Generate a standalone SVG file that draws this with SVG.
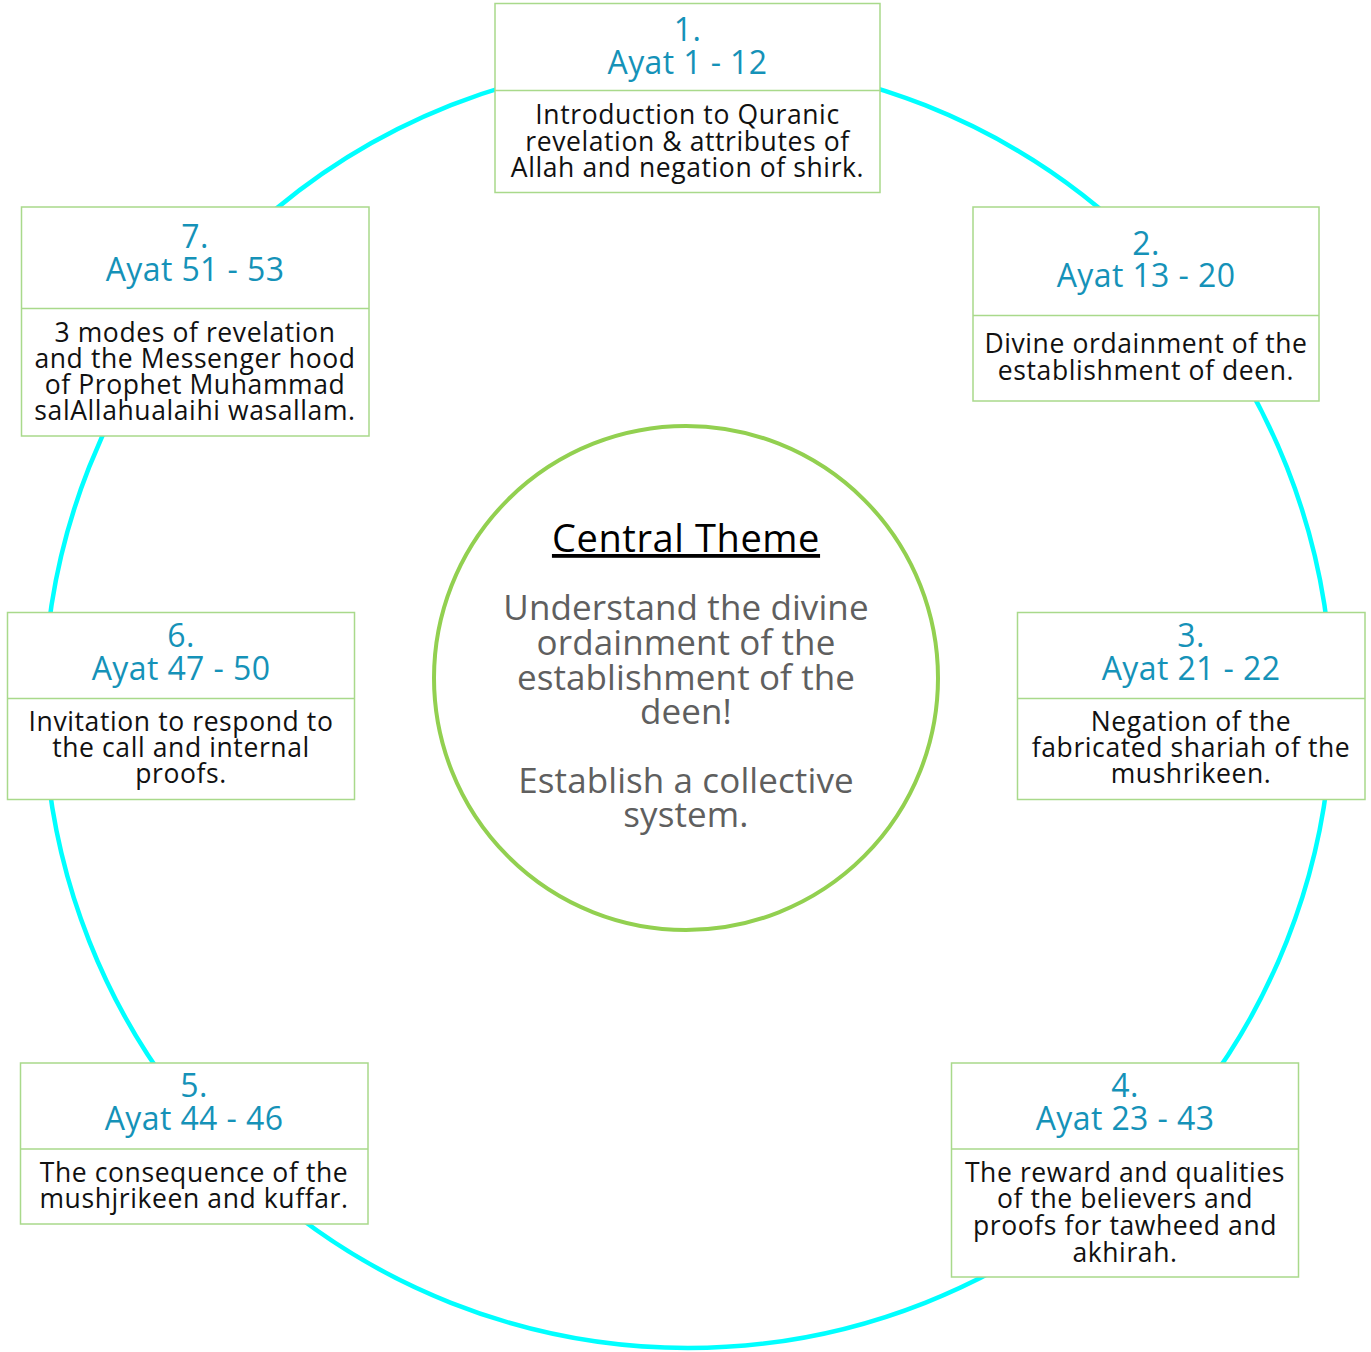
<svg xmlns="http://www.w3.org/2000/svg" width="1371" height="1352" viewBox="0 0 1371 1352">
<style>
.ring{fill:none;stroke:#00ffff;stroke-width:4.5}
.core{fill:#ffffff;stroke:#92d050;stroke-width:4}
.box{fill:#ffffff;stroke:#a9d98b;stroke-width:1.5}
.div{stroke:#a9d98b;stroke-width:1.5}
.hd{font-family:"Open Sans",sans-serif;font-size:32px;letter-spacing:0.4px;fill:#1592b8;text-anchor:middle}
.bd{font-family:"Open Sans",sans-serif;font-size:26.5px;letter-spacing:0.6px;fill:#111111;text-anchor:middle}
.ttl{font-family:"Open Sans",sans-serif;font-size:38px;letter-spacing:0.6px;fill:#000000;text-anchor:middle;text-decoration:underline}
.ct{font-family:"Open Sans",sans-serif;font-size:35px;letter-spacing:0.1px;fill:#5f5f5f;text-anchor:middle}
</style>
<rect width="1371" height="1352" fill="#ffffff"/>
<g id="connectors">
<circle class="ring" cx="688" cy="704" r="644"/>
</g>
<g id="central">
<circle class="core" cx="686" cy="678" r="252"/>
<text class="ttl" x="686" y="552">Central Theme</text>
<text class="ct" x="686" y="620">Understand the divine</text>
<text class="ct" x="686" y="655">ordainment of the</text>
<text class="ct" x="686" y="690">establishment of the</text>
<text class="ct" x="686" y="724">deen!</text>
<text class="ct" x="686" y="793">Establish a collective</text>
<text class="ct" x="686" y="827">system.</text>
</g>
<g id="node1">
<rect class="box" x="495" y="3.5" width="385" height="189"/>
<line class="div" x1="495" y1="90.5" x2="880" y2="90.5"/>
<text class="hd" x="687.5" y="41">1.</text>
<text class="hd" x="687.5" y="74">Ayat 1 - 12</text>
<text class="bd" x="687.5" y="124">Introduction to Quranic</text>
<text class="bd" x="687.5" y="151">revelation &amp; attributes of</text>
<text class="bd" x="687.5" y="177">Allah and negation of shirk.</text>
</g>
<g id="node2">
<rect class="box" x="973" y="207" width="346" height="194"/>
<line class="div" x1="973" y1="315.5" x2="1319" y2="315.5"/>
<text class="hd" x="1146" y="255">2.</text>
<text class="hd" x="1146" y="287">Ayat 13 - 20</text>
<text class="bd" x="1146" y="353">Divine ordainment of the</text>
<text class="bd" x="1146" y="380">establishment of deen.</text>
</g>
<g id="node3">
<rect class="box" x="1017.5" y="612.5" width="347.5" height="187"/>
<line class="div" x1="1017.5" y1="698.5" x2="1365" y2="698.5"/>
<text class="hd" x="1191" y="647">3.</text>
<text class="hd" x="1191" y="680">Ayat 21 - 22</text>
<text class="bd" x="1191" y="731">Negation of the</text>
<text class="bd" x="1191" y="757">fabricated shariah of the</text>
<text class="bd" x="1191" y="783">mushrikeen.</text>
</g>
<g id="node4">
<rect class="box" x="951.5" y="1063" width="347" height="214"/>
<line class="div" x1="951.5" y1="1149" x2="1298.5" y2="1149"/>
<text class="hd" x="1125" y="1097">4.</text>
<text class="hd" x="1125" y="1130">Ayat 23 - 43</text>
<text class="bd" x="1125" y="1182">The reward and qualities</text>
<text class="bd" x="1125" y="1208">of the believers and</text>
<text class="bd" x="1125" y="1235">proofs for tawheed and</text>
<text class="bd" x="1125" y="1262">akhirah.</text>
</g>
<g id="node5">
<rect class="box" x="20.5" y="1063" width="347.5" height="161"/>
<line class="div" x1="20.5" y1="1149" x2="368" y2="1149"/>
<text class="hd" x="194" y="1097">5.</text>
<text class="hd" x="194" y="1130">Ayat 44 - 46</text>
<text class="bd" x="194" y="1182">The consequence of the</text>
<text class="bd" x="194" y="1208">mushjrikeen and kuffar.</text>
</g>
<g id="node6">
<rect class="box" x="7.5" y="612.5" width="347" height="187"/>
<line class="div" x1="7.5" y1="698.5" x2="354.5" y2="698.5"/>
<text class="hd" x="181" y="647">6.</text>
<text class="hd" x="181" y="680">Ayat 47 - 50</text>
<text class="bd" x="181" y="731">Invitation to respond to</text>
<text class="bd" x="181" y="757">the call and internal</text>
<text class="bd" x="181" y="783">proofs.</text>
</g>
<g id="node7">
<rect class="box" x="21.5" y="207" width="347.5" height="229"/>
<line class="div" x1="21.5" y1="308.5" x2="369" y2="308.5"/>
<text class="hd" x="195" y="248">7.</text>
<text class="hd" x="195" y="281">Ayat 51 - 53</text>
<text class="bd" x="195" y="342">3 modes of revelation</text>
<text class="bd" x="195" y="368">and the Messenger hood</text>
<text class="bd" x="195" y="394">of Prophet Muhammad</text>
<text class="bd" x="195" y="420">salAllahualaihi wasallam.</text>
</g>
</svg>
